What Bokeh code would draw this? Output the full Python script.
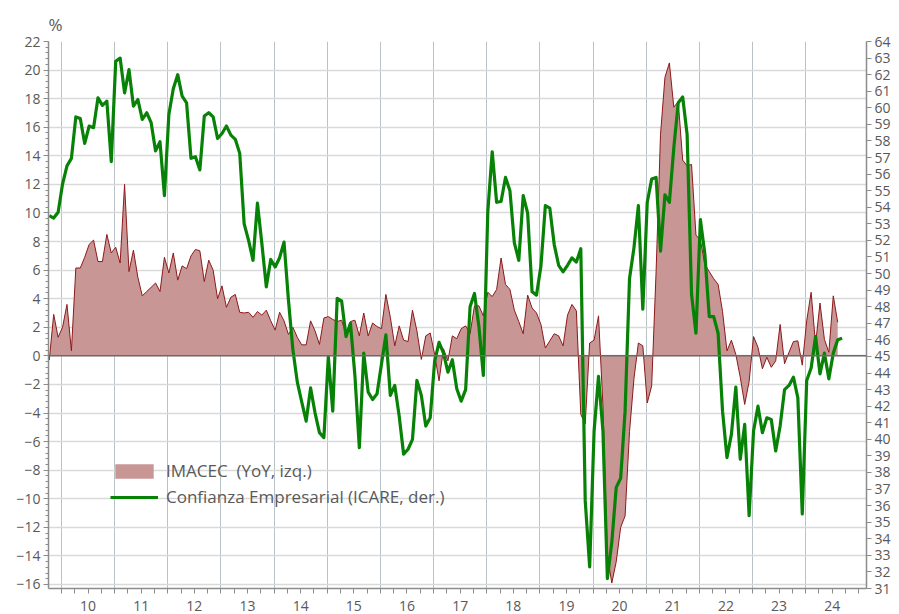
from bokeh.plotting import figure
from bokeh.models import Range1d, LinearAxis, FixedTicker, Span, Legend, LegendItem
from bokeh.embed import file_html
from bokeh.resources import INLINE

# ---------------- data ----------------
start_year, start_month = 2009, 10   # first observation: Oct 2009, monthly

imacec = [
    -0.3, 2.9, 1.3, 2.0, 3.6, 0.35, 6.15, 6.15, 6.9, 7.8, 8.1, 6.6, 6.6, 8.5, 7.2, 7.6,
    6.5, 12.0, 5.9, 7.4, 5.5, 4.2, 4.5, 4.8, 5.1, 4.5, 6.9, 5.8, 7.2, 5.3, 6.3, 6.1,
    7.0, 7.45, 7.35, 5.2, 6.7, 6.0, 4.0, 4.9, 3.4, 4.1, 4.3, 3.05, 3.0, 3.05, 2.7, 3.1,
    2.85, 3.2, 2.45, 1.8, 3.05, 2.45, 1.5, 2.0, 1.3, 0.77, 0.77, 2.45, 1.75, 0.8, 2.65, 2.75,
    2.55, 2.4, 2.5, 1.5, 2.4, 2.5, 1.4, 3.0, 1.4, 2.3, 2.05, 1.9, 4.3, 2.7, 0.7, 2.1,
    1.1, 1.0, 3.2, 1.75, -0.25, 1.4, 1.6, 0.1, -1.75, 0.5, -0.35, 1.4, 1.2, 1.9, 2.1, 1.55,
    3.5, 3.5, 2.8, 4.45, 4.15, 4.65, 6.85, 5.0, 4.65, 3.2, 2.4, 1.55, 4.25, 3.35, 3.0, 2.2,
    0.55, 1.05, 1.55, 1.4, 0.7, 2.85, 3.6, 3.15, -4.1, -4.75, 0.9, 1.1, 2.8, -3.5, -14.0, -15.9,
    -14.4, -12.0, -11.2, -5.3, -1.6, 0.9, 0.7, -3.3, -2.1, 5.9, 15.5, 19.5, 20.5, 17.4, 17.8, 13.7,
    13.3, 13.4, 8.45, 8.1, 6.4, 5.9, 5.4, 5.0, 3.1, 0.35, 1.1, 0.1, -1.5, -3.4, -1.8, 1.35,
    0.6, -0.9, -0.1, -0.8, -0.35, 2.2, -0.55, 0.25, 1.0, 1.05, -0.65, 2.45, 4.45, 0.8, 3.7, 1.15,
    0.25, 4.2, 2.35,
]

icare = [
    53.5, 53.35, 53.7, 55.4, 56.5, 56.95, 59.45, 59.35, 57.85, 58.9, 58.8, 60.6, 60.15, 60.4, 56.75, 62.8,
    63.0, 60.9, 62.3, 60.1, 60.5, 59.3, 59.7, 59.1, 57.4, 57.95, 54.7, 59.6, 61.15, 62.0, 60.7, 60.3,
    56.95, 57.05, 56.25, 59.5, 59.7, 59.45, 58.15, 58.45, 58.9, 58.35, 58.1, 57.25, 53.0, 52.0, 50.8, 54.25,
    51.8, 49.2, 50.85, 50.4, 50.95, 51.9, 48.4, 45.4, 43.45, 42.25, 41.1, 43.1, 41.6, 40.4, 40.1, 44.97,
    41.7, 48.5, 48.35, 46.2, 47.0, 43.85, 39.5, 45.2, 42.85, 42.4, 42.75, 44.55, 46.3, 42.65, 43.25, 41.4,
    39.1, 39.4, 40.0, 43.55, 42.65, 40.8, 41.3, 44.7, 45.85, 45.2, 44.05, 44.8, 43.05, 42.3, 43.0, 48.0,
    48.8, 46.8, 43.85, 53.7, 57.35, 54.3, 54.35, 55.8, 55.0, 51.85, 50.8, 54.7, 53.65, 48.9, 48.7, 50.45,
    54.1, 53.95, 51.75, 50.5, 50.1, 50.5, 50.95, 50.7, 51.5, 36.3, 32.3, 40.5, 43.8, 40.5, 31.6, 33.8,
    37.1, 37.65, 41.7, 49.7, 51.55, 54.1, 47.85, 54.3, 55.7, 55.8, 51.35, 54.75, 54.3, 57.6, 60.3, 60.65,
    58.4, 48.75, 46.4, 53.25, 51.2, 47.4, 47.4, 46.4, 41.7, 38.9, 40.3, 43.15, 38.8, 40.9, 35.4, 40.5,
    42.0, 40.4, 41.3, 41.2, 39.3, 40.8, 43.0, 43.25, 43.75, 42.5, 35.5, 43.55, 44.3, 46.2, 43.95, 45.2,
    43.65, 45.2, 46.0, 46.1,
]

label_years = list(range(2010, 2025))
year_labels = ["10", "11", "12", "13", "14", "15", "16", "17", "18", "19", "20", "21", "22", "23", "24"]
left_ticks = list(range(-16, 23, 2))
right_ticks = list(range(31, 65))

# ---------------- helpers ----------------
def month_x(i):
    return start_year + (start_month - 1 + i) / 12.0 + 0.02

x_im = [month_x(i) for i in range(len(imacec))]
x_ic = [month_x(i) for i in range(len(icare))]

FONT = "Open Sans"
TXT = "#595959"
AXC = "#8c8c8c"

p = figure(width=893, height=613, output_backend="svg", toolbar_location=None,
           x_range=Range1d(2009.7556, 2025.145), y_range=Range1d(-16.28, 22),
           min_border_left=48, min_border_right=26, min_border_top=41, min_border_bottom=20,
           title="%")
p.extra_y_ranges = {"right": Range1d(31, 64)}
p.outline_line_color = None
p.background_fill_color = "white"
p.border_fill_color = "white"

p.title.text_font = FONT
p.title.text_font_size = "17px"
p.title.text_font_style = "normal"
p.title.text_color = TXT
p.title.align = "left"
p.title.vertical_align = "top"
p.title.standoff = 8
p.title.offset = 0

# grids
p.ygrid.ticker = FixedTicker(ticks=left_ticks)
p.ygrid.grid_line_color = "#d9d9d9"
p.ygrid.grid_line_width = 1.5
p.xgrid.ticker = FixedTicker(ticks=label_years)
p.xgrid.grid_line_color = "#b9c2c7"
p.xgrid.grid_line_width = 1

# left axis
minor_left = [-16 + 0.4 * k for k in range(0, 96)]
p.yaxis.ticker = FixedTicker(ticks=left_ticks, minor_ticks=minor_left)
ax = p.yaxis[0]
ax.axis_line_color = AXC
ax.axis_line_width = 1.5
ax.major_tick_line_color = AXC
ax.minor_tick_line_color = AXC
ax.major_tick_out = 5
ax.major_tick_in = 0
ax.minor_tick_out = 3
ax.minor_tick_in = 0
ax.major_label_text_font = FONT
ax.major_label_text_font_size = "14px"
ax.major_label_text_color = TXT
ax.major_label_standoff = 3

# bottom axis: labels mid-year, ticks at quarters / year boundaries
mid_years = [y + 0.5 for y in label_years]
quarter_ticks = [y + q / 4.0 for y in range(2009, 2026) for q in range(4)
                 if 2009.76 <= y + q / 4.0 <= 2025.14]
p.xaxis.ticker = FixedTicker(ticks=mid_years, minor_ticks=quarter_ticks)
bx = p.xaxis[0]
bx.major_label_overrides = {m: lab for m, lab in zip(mid_years, year_labels)}
bx.axis_line_color = AXC
bx.axis_line_width = 1.5
bx.major_tick_out = 0
bx.major_tick_in = 0
bx.minor_tick_out = 5
bx.minor_tick_in = 0
bx.minor_tick_line_color = AXC
bx.major_label_text_font = FONT
bx.major_label_text_font_size = "14px"
bx.major_label_text_color = TXT
bx.major_label_standoff = 7

# right axis
ax_r = LinearAxis(y_range_name="right", ticker=FixedTicker(ticks=right_ticks))
ax_r.axis_line_color = AXC
ax_r.axis_line_width = 1.5
ax_r.major_tick_line_color = AXC
ax_r.major_tick_out = 5
ax_r.major_tick_in = 0
ax_r.minor_tick_line_color = None
ax_r.major_label_text_font = FONT
ax_r.major_label_text_font_size = "14px"
ax_r.major_label_text_color = TXT
ax_r.major_label_standoff = 3
p.add_layout(ax_r, "right")

# series
area_r = p.varea(x=x_im, y1=0, y2=imacec, fill_color="#c99696", fill_alpha=1.0)
p.line(x=x_im, y=imacec, line_color="#8b1a1a", line_width=1)

zero = Span(location=0, dimension="width", line_color="#6a6a6a", line_width=1.5)
p.add_layout(zero)

green_r = p.line(x=x_ic, y=icare, y_range_name="right", line_color="#078207",
                 line_width=3.2, line_join="round")

legend = Legend(items=[
    LegendItem(label="IMACEC  (YoY, izq.)", renderers=[area_r]),
    LegendItem(label="Confianza Empresarial (ICARE, der.)", renderers=[green_r]),
], location=(62, 80))
legend.background_fill_alpha = 0
legend.border_line_color = None
legend.padding = 0
legend.margin = 0
legend.spacing = 3
legend.glyph_width = 48
legend.glyph_height = 18
legend.label_standoff = 8
legend.label_text_font = FONT
legend.label_text_font_size = "17px"
legend.label_text_color = TXT
p.add_layout(legend)

open("out.html", "w").write(file_html(p, INLINE))
